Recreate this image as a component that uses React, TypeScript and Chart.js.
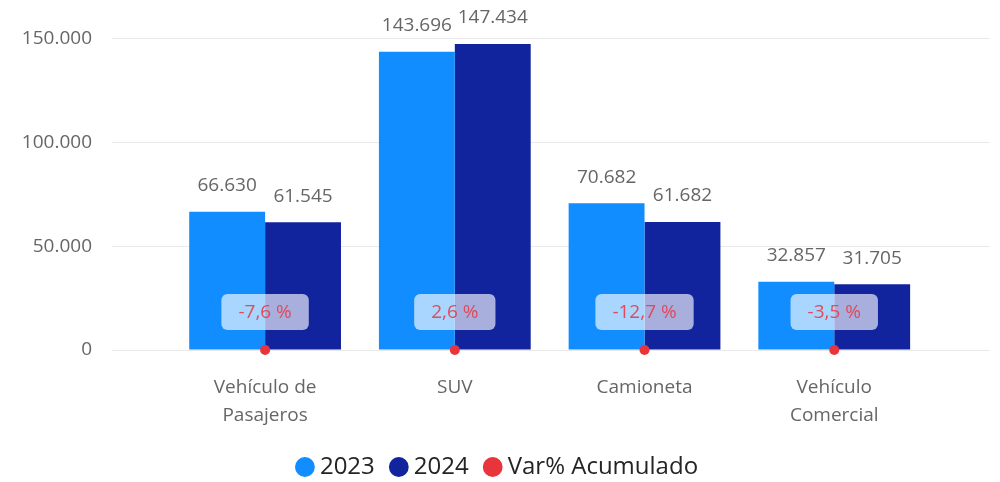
import React, { useEffect, useRef } from 'react';
import { Chart, registerables } from 'chart.js';

Chart.register(...registerables);

const categories: string[][] = [['Vehículo de', 'Pasajeros'], ['SUV'], ['Camioneta'], ['Vehículo', 'Comercial']];
const values2023 = [66630, 143696, 70682, 32857];
const values2024 = [61545, 147434, 61682, 31705];
const varPct = [-7.6, 2.6, -12.7, -3.5];
const yTicks = [0, 50000, 100000, 150000];
const seriesNames = ['2023', '2024', 'Var% Acumulado'];
const seriesColors = ['#118DFF', '#12239E', '#E8353B'];

const FONT = "'Segoe UI', 'Open Sans', sans-serif";

const fmt = (v: number) => String(Math.round(v)).replace(/\B(?=(\d{3})+(?!\d))/g, '.');
const pct = (v: number) => v.toFixed(1).replace('.', ',') + ' %';

const labelPlugin = {
  id: 'labelPlugin',
  afterDatasetsDraw(chart: any) {
    const ctx = chart.ctx;
    ctx.save();
    ctx.font = `19px ${FONT}`;
    ctx.textAlign = 'center';
    ctx.textBaseline = 'middle';
    [values2023, values2024].forEach((vals, di) => {
      const meta = chart.getDatasetMeta(di);
      ctx.fillStyle = '#666666';
      meta.data.forEach((el: any, i: number) => {
        ctx.fillText(fmt(vals[i]), el.x, el.y - 26);
      });
    });
    const meta = chart.getDatasetMeta(2);
    meta.data.forEach((el: any, i: number) => {
      const text = pct(varPct[i]);
      const w = ctx.measureText(text).width + 34;
      const h = 36;
      const cx = el.x;
      const cy = el.y - 38;
      ctx.fillStyle = 'rgba(255,255,255,0.64)';
      ctx.beginPath();
      ctx.roundRect(cx - w / 2, cy - h / 2, w, h, 6);
      ctx.fill();
      ctx.fillStyle = '#E04A5A';
      ctx.fillText(text, cx, cy + 1);
    });
    ctx.restore();
  },
};

export default function App() {
  const ref = useRef<HTMLCanvasElement | null>(null);

  useEffect(() => {
    if (!ref.current) return;
    const chart = new Chart(ref.current, {
      type: 'bar',
      data: {
        datasets: [
          {
            type: 'bar',
            label: seriesNames[0],
            data: values2023.map((v, i) => ({ x: i, y: v })),
            backgroundColor: seriesColors[0],
            borderWidth: 0,
            categoryPercentage: 0.8,
            barPercentage: 1,
          },
          {
            type: 'bar',
            label: seriesNames[1],
            data: values2024.map((v, i) => ({ x: i, y: v })),
            backgroundColor: seriesColors[1],
            borderWidth: 0,
            categoryPercentage: 0.8,
            barPercentage: 1,
          },
          {
            type: 'line',
            label: seriesNames[2],
            data: varPct.map((v, i) => ({ x: i, y: v / 100 })),
            showLine: false,
            backgroundColor: seriesColors[2],
            borderColor: seriesColors[2],
            pointBackgroundColor: seriesColors[2],
            pointBorderWidth: 0,
            pointRadius: 5,
            order: -1,
            clip: false,
          } as any,
        ],
      },
      options: {
        animation: false,
        responsive: false,
        maintainAspectRatio: false,
        events: [],
        layout: { padding: { left: 10, right: 10, top: 18, bottom: -7 } },
        scales: {
          x: {
            type: 'linear',
            offset: false,
            min: -0.807,
            max: 3.821,
            grid: { display: false, drawTicks: false, offset: false },
            border: { display: false },
            afterBuildTicks: (s: any) => {
              s.ticks = categories.map((_, i) => ({ value: i }));
            },
            afterFit: (s: any) => {
              s.height = 84;
              s.paddingLeft = 0;
              s.paddingRight = 0;
            },
            ticks: {
              autoSkip: false,
              maxRotation: 0,
              padding: 23,
              color: '#666666',
              font: { family: FONT, size: 19, lineHeight: 1.5 },
              callback: (v: any) => categories[Math.round(Number(v))] ?? '',
            },
          },
          y: {
            min: 0,
            max: 160000,
            grid: { color: '#E9E9E9', lineWidth: 1, drawTicks: false },
            border: { display: false },
            afterBuildTicks: (s: any) => {
              s.ticks = yTicks.map((v) => ({ value: v }));
            },
            afterFit: (s: any) => {
              s.width = 102;
              s.paddingTop = 0;
              s.paddingBottom = 0;
            },
            ticks: {
              padding: 20,
              color: '#666666',
              font: { family: FONT, size: 19 },
              callback: (v: any) => fmt(Number(v)),
            },
          },
        },
        plugins: {
          tooltip: { enabled: false },
          legend: {
            position: 'bottom',
            labels: {
              usePointStyle: true,
              pointStyle: 'circle',
              boxWidth: 6,
              boxHeight: 14,
              padding: 21,
              color: '#252423',
              font: { family: FONT, size: 24 },
              sort: (a: any, b: any) => a.datasetIndex - b.datasetIndex,
            },
          },
        },
      },
      plugins: [labelPlugin],
    } as any);
    return () => chart.destroy();
  }, []);

  return (
    <div style={{ position: 'absolute', left: 0, top: 0, width: 1000, height: 482, background: '#fff' }}>
      <canvas ref={ref} width={1000} height={482} />
    </div>
  );
}
